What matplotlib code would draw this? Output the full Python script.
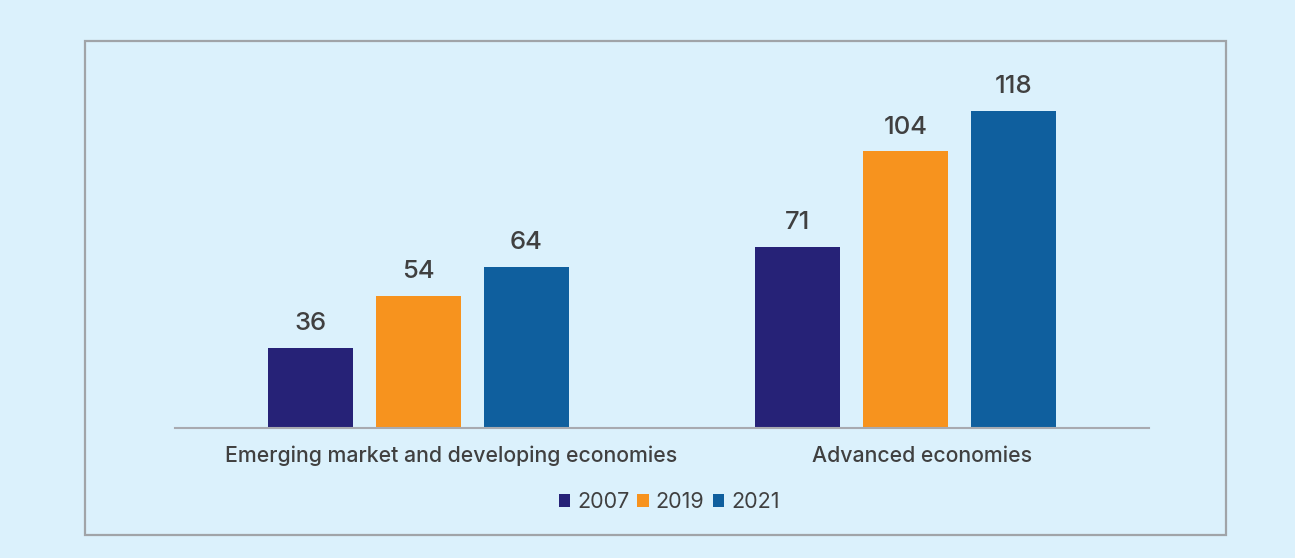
import matplotlib
matplotlib.use("Agg")
import matplotlib.pyplot as plt
from matplotlib.patches import Rectangle, Patch
import matplotlib.transforms as mtransforms
import numpy as np

categories = ["Emerging market and developing economies", "Advanced economies"]
series_names = ["2007", "2019", "2021"]
values_2007 = [36, 71]
values_2019 = [54, 104]
values_2021 = [64, 118]
series_values = [values_2007, values_2019, values_2021]
colors = ["#262277", "#f7931e", "#0f5f9e"]

BG = "#dbf1fc"
TXT = "#404040"
plt.rcParams['font.family'] = ['Inter', 'DejaVu Sans']

fig = plt.figure(figsize=(12.95, 5.58), dpi=100)
fig.patch.set_facecolor(BG)

# outer frame
fig.patches.append(Rectangle((85/1295, 23/558), 1141/1295, 494/558,
                             transform=fig.transFigure, fill=False,
                             edgecolor="#a0a4a8", linewidth=1.6, zorder=0))

ax = fig.add_axes([175/1295, 130/558, 974/1295, 368/558])
ax.set_facecolor(BG)
ax.patch.set_alpha(0)

x = np.arange(len(categories))
width = 0.1745
offset = 0.2218
for i, (name, vals, c) in enumerate(zip(series_names, series_values, colors)):
    pos = x + (i - 1) * offset
    bars = ax.bar(pos, vals, width=width, color=c, label=name, zorder=2)
    for b, v in zip(bars, vals):
        ax.annotate(f"{v}", (b.get_x() + b.get_width() / 2, b.get_height()),
                    xytext=(0, 9), textcoords="offset points", ha="center", va="bottom",
                    fontsize=18.5, fontweight="medium", color=TXT)

ax.set_xlim(-0.5, 1.5)
ax.set_ylim(8.3, 135.6)
for s in ["top", "right", "left"]:
    ax.spines[s].set_visible(False)
ax.spines["bottom"].set_color("#a8aab0")
ax.spines["bottom"].set_linewidth(1.5)
ax.set_yticks([])
ax.set_xticks([])

# category labels
label_shift = [0.066, 0.034]
for xi, cat, sh in zip(x, categories, label_shift):
    ax.text(xi + sh, -0.075, cat, transform=mtransforms.blended_transform_factory(ax.transData, ax.transAxes),
            ha="center", va="center", fontsize=15.3, fontweight="medium", color=TXT)

handles = [Patch(facecolor=c, edgecolor="none") for c in colors]
fig.legend(handles, series_names, loc="center", bbox_to_anchor=(669/1295, 1 - 502/558),
           ncol=3, frameon=False, fontsize=15.5, handlelength=0.52, handleheight=0.52,
           handletextpad=0.33, columnspacing=0.38, labelcolor=TXT)

fig.savefig("out.png", dpi=100, facecolor=BG)
